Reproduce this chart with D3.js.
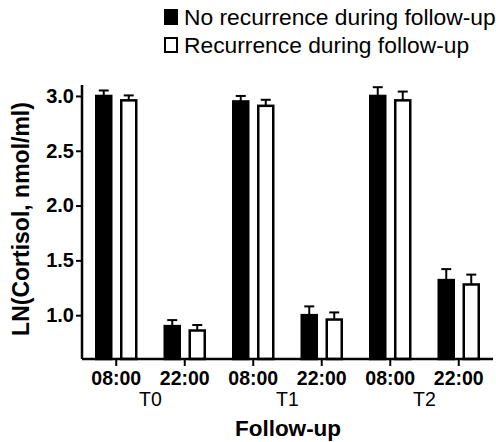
<!DOCTYPE html>
<html>
<head>
<meta charset="utf-8">
<style>
  body { margin: 0; background: #fff; }
  svg { display: block; font-family: "Liberation Sans", Arial, sans-serif; }
</style>
</head>
<body>
<svg width="496" height="442"></svg>
<script src="https://d3js.org/d3.v7.min.js"></script>
<script>

// data
var times = ["08:00", "22:00", "08:00", "22:00", "08:00", "22:00"];
var visits = ["T0", "T1", "T2"];
var series = ["No recurrence during follow-up", "Recurrence during follow-up"];
var noRecurrence    = [3.00, 0.90, 2.95, 1.00, 3.00, 1.32];
var noRecurrenceErr = [0.05, 0.055, 0.05, 0.08, 0.08, 0.10];
var recurrence      = [2.96, 0.86, 2.91, 0.96, 2.96, 1.28];
var recurrenceErr   = [0.045, 0.05, 0.055, 0.065, 0.08, 0.09];
var yTicks = [1.0, 1.5, 2.0, 2.5, 3.0];

var svg = d3.select("svg");

var x0 = d3.scaleBand()
    .domain(d3.range(times.length))
    .range([82, 493]);

var x1 = d3.scaleBand()
    .domain([0, 1])
    .range([-21, 21])
    .paddingInner(0.32);

var y = d3.scaleLinear()
    .domain([0.6, 3.1])
    .range([359, 85]);

var fills = ["#000", "#fff"];
var vals = [noRecurrence, recurrence];
var errs = [noRecurrenceErr, recurrenceErr];

var rows = [];
times.forEach(function(t, i) {
  [0, 1].forEach(function(s) {
    rows.push({ i: i, s: s, v: vals[s][i], e: errs[s][i] });
  });
});

// error whiskers (upper only)
var bars = svg.append("g");
var eb = svg.append("g").attr("stroke", "#000").attr("stroke-width", 2);

rows.forEach(function(d) {
  var cx = x0(d.i) + x0.bandwidth() / 2 + x1(d.s) + x1.bandwidth() / 2;
  eb.append("line")
      .attr("x1", cx).attr("x2", cx)
      .attr("y1", y(d.v)).attr("y2", y(d.v + d.e));
  eb.append("line")
      .attr("x1", cx - 5).attr("x2", cx + 5)
      .attr("y1", y(d.v + d.e)).attr("y2", y(d.v + d.e));
});

bars.selectAll("rect")
  .data(rows)
  .enter().append("rect")
    .attr("x", function(d) { return x0(d.i) + x0.bandwidth() / 2 + x1(d.s) + 1; })
    .attr("width", x1.bandwidth() - 2)
    .attr("y", function(d) { return y(d.v); })
    .attr("height", function(d) { return y(0.6) - y(d.v); })
    .attr("fill", function(d) { return fills[d.s]; })
    .attr("stroke", "#000")
    .attr("stroke-width", 2.5);

// y axis
var yAxis = svg.append("g")
    .attr("transform", "translate(82,0)")
    .call(d3.axisLeft(y).tickValues(yTicks).tickSize(6).tickPadding(2)
      .tickFormat(d3.format(".1f")));
yAxis.select(".domain").attr("stroke-width", 2.5).attr("d", "M0," + y(3.1) + "V" + y(0.6));
yAxis.selectAll(".tick line").attr("stroke-width", 2);
yAxis.selectAll("text")
    .attr("font-size", 20).attr("font-weight", "bold")
    .attr("font-family", "Liberation Sans, Arial, sans-serif").attr("fill", "#000");

// x axis
var xAxis = svg.append("g")
    .attr("transform", "translate(0," + y(0.6) + ")")
    .call(d3.axisBottom(x0).tickSize(7).tickPadding(5)
      .tickFormat(function(i) { return times[i]; }));
xAxis.select(".domain").attr("stroke-width", 2.5).attr("d", "M82,0H493");
xAxis.selectAll(".tick line").attr("stroke-width", 2);
xAxis.selectAll("text")
    .attr("font-size", 19.5).attr("font-weight", "bold")
    .attr("font-family", "Liberation Sans, Arial, sans-serif").attr("fill", "#000");

// visit labels under each pair of ticks
svg.append("g").selectAll("text")
  .data(visits)
  .enter().append("text")
    .attr("x", function(d, k) { return (x0(2 * k) + x0(2 * k + 1) + x0.bandwidth()) / 2; })
    .attr("y", 406)
    .attr("text-anchor", "middle")
    .attr("font-size", 19.5)
    .text(function(d) { return d; });

svg.append("text")
    .attr("x", 288)
    .attr("y", 436)
    .attr("text-anchor", "middle")
    .attr("font-size", 22.5)
    .attr("font-weight", "bold")
    .text("Follow-up");

svg.append("text")
    .attr("transform", "translate(29,219) rotate(-90)")
    .attr("text-anchor", "middle")
    .attr("font-size", 23)
    .attr("font-weight", "bold")
    .text("LN(Cortisol, nmol/ml)");

// legend
var legend = svg.append("g");
series.forEach(function(name, s) {
  var gy = 9 + s * 28;
  legend.append("rect")
      .attr("x", 165).attr("y", gy + 1)
      .attr("width", 12).attr("height", 14)
      .attr("fill", fills[s]).attr("stroke", "#000").attr("stroke-width", 2);
  legend.append("text")
      .attr("x", 184).attr("y", gy + 16)
      .attr("font-size", 22.8)
      .text(name);
});

</script>
</body>
</html>
